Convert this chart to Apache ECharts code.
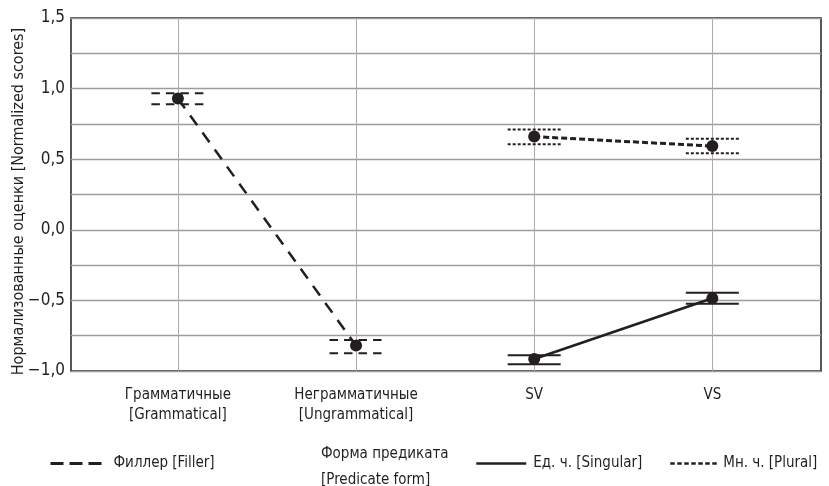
<!DOCTYPE html>
<html><head><meta charset="utf-8">
<script src="https://cdn.jsdelivr.net/npm/echarts@6/dist/echarts.min.js"></script>
<style>html,body{margin:0;padding:0;background:#fff}#c{width:829px;height:486px}</style>
</head><body><div id="c"></div>
<script>
// ---- data ----
const categories = ['Грамматичные\n[Grammatical]', 'Неграмматичные\n[Ungrammatical]', 'SV', 'VS'];
const categoryPos = [1, 2, 3, 4];
const yTickValues = [-1.0, -0.5, 0.0, 0.5, 1.0, 1.5];
const fillerX = [1, 2];
const fillerMean = [0.93, -0.82];
const fillerLow = [0.89, -0.875];
const fillerHigh = [0.967, -0.78];
const formX = [3, 4];
const singMean = [-0.915, -0.485];
const singLow = [-0.953, -0.523];
const singHigh = [-0.888, -0.445];
const plurMean = [0.66, 0.593];
const plurLow = [0.605, 0.543];
const plurHigh = [0.71, 0.645];
const seriesNames = ['Филлер [Filler]', 'Ед. ч. [Singular]', 'Мн. ч. [Plural]'];
const formTitle = 'Форма предиката\n[Predicate form]';
const yName = 'Нормализованные оценки [Normalized scores]';

const INK = '#231f20';
const FONT = '"Liberation Sans Narrow", "DejaVu Sans Condensed", sans-serif';

const zip = (xs, ys) => xs.map((x, i) => [x, ys[i]]);
const zip3 = (xs, a, b) => xs.map((x, i) => [x, a[i], b[i]]);

function errRender(dash, width) {
  return function (params, api) {
    const x = api.value(0), lo = api.value(1), hi = api.value(2);
    const pLo = api.coord([x, lo]), pHi = api.coord([x, hi]);
    const hw = 26.5;
    const style = { stroke: INK, lineWidth: width, lineDash: dash, fill: null };
    return {
      type: 'group', children: [
        { type: 'line', shape: { x1: pLo[0] - hw, y1: pLo[1], x2: pLo[0] + hw, y2: pLo[1] }, style: style },
        { type: 'line', shape: { x1: pHi[0] - hw, y1: pHi[1], x2: pHi[0] + hw, y2: pHi[1] }, style: style }
      ]
    };
  };
}

function fmtY(v) {
  if (yTickValues.some(t => Math.abs(t - v) < 1e-9)) {
    return v.toFixed(1).replace('.', ',').replace('-', '−');
  }
  return '';
}

const legendText = { fontFamily: FONT, fontSize: 15, color: INK };

const chart = echarts.init(document.getElementById('c'), null, { renderer: 'canvas' });
chart.setOption({
  animation: false,
  backgroundColor: '#fff',
  textStyle: { fontFamily: FONT, color: INK },
  grid: {
    left: 71, right: 8, top: 18, bottom: 115,
    show: true, borderColor: INK, borderWidth: 1.5, backgroundColor: 'transparent',
    outerBoundsMode: 'none', containLabel: false
  },
  xAxis: {
    type: 'value', min: 0.4, max: 4.61,
    axisLine: { show: false },
    axisTick: { show: false, customValues: categoryPos },
    splitLine: { show: true, lineStyle: { color: '#ababab', width: 1 } },
    axisLabel: {
      customValues: categoryPos,
      formatter: v => categories[Math.round(v) - 1] || '',
      fontFamily: FONT, fontSize: 15, color: INK, lineHeight: 20, margin: 14,
      showMinLabel: true, showMaxLabel: true
    }
  },
  yAxis: {
    type: 'value', min: -1, max: 1.5, interval: 0.25,
    axisLine: { show: false }, axisTick: { show: false },
    splitLine: { show: true, lineStyle: { color: '#9c9c9c', width: 1.4 } },
    axisLabel: { formatter: fmtY, fontFamily: FONT, fontSize: 17, color: INK, margin: 6,
      showMinLabel: true, showMaxLabel: true },
    name: yName, nameLocation: 'middle', nameRotate: 90, nameGap: 44, nameMoveOverlap: false,
    nameTextStyle: { fontFamily: FONT, fontSize: 16, color: INK, padding: [0, 14, 0, 0] }
  },
  legend: [
    { data: [seriesNames[0]], left: 49, top: 456, padding: 0, itemWidth: 51, itemHeight: 14,
      itemStyle: { opacity: 0 },
      lineStyle: { type: [13, 6], width: 3 },
      textStyle: Object.assign({ padding: [0, 0, 0, 7] }, legendText) },
    { data: [seriesNames[1]], left: 475, top: 456, padding: 0, itemWidth: 50, itemHeight: 14,
      itemStyle: { opacity: 0 },
      lineStyle: { width: 2.5 },
      textStyle: Object.assign({ padding: [0, 0, 0, 2] }, legendText) },
    { data: [seriesNames[2]], left: 669, top: 456, padding: 0, itemWidth: 48, itemHeight: 14,
      itemStyle: { opacity: 0 },
      lineStyle: { type: [4.5, 2.5], width: 2.5 },
      textStyle: legendText }
  ],
  graphic: [
    { type: 'text', left: 321, top: 441,
      style: { text: formTitle, fontFamily: FONT, fontSize: 15, lineHeight: 26, fill: INK } }
  ],
  series: [
    { name: seriesNames[0], type: 'line', data: zip(fillerX, fillerMean), symbol: 'none',
      lineStyle: { color: INK, width: 2.5, type: [12, 9] }, itemStyle: { color: INK }, z: 3 },
    { name: seriesNames[1], type: 'line', data: zip(formX, singMean), symbol: 'none',
      lineStyle: { color: INK, width: 2.5, type: 'solid' }, itemStyle: { color: INK }, z: 3 },
    { name: seriesNames[2], type: 'line', data: zip(formX, plurMean), symbol: 'none',
      lineStyle: { color: INK, width: 3, type: [6, 3] }, itemStyle: { color: INK }, z: 3 },
    { type: 'custom', renderItem: errRender([8.5, 6], 2), data: zip3(fillerX, fillerLow, fillerHigh), z: 4, silent: true },
    { type: 'custom', renderItem: errRender(null, 2), data: zip3(formX, singLow, singHigh), z: 4, silent: true },
    { type: 'custom', renderItem: errRender([3, 2], 2), data: zip3(formX, plurLow, plurHigh), z: 4, silent: true },
    { type: 'scatter', symbol: 'circle', symbolSize: 12, itemStyle: { color: INK, opacity: 1 }, z: 5,
      data: zip(fillerX, fillerMean).concat(zip(formX, singMean), zip(formX, plurMean)) }
  ]
});
</script>
</body></html>
